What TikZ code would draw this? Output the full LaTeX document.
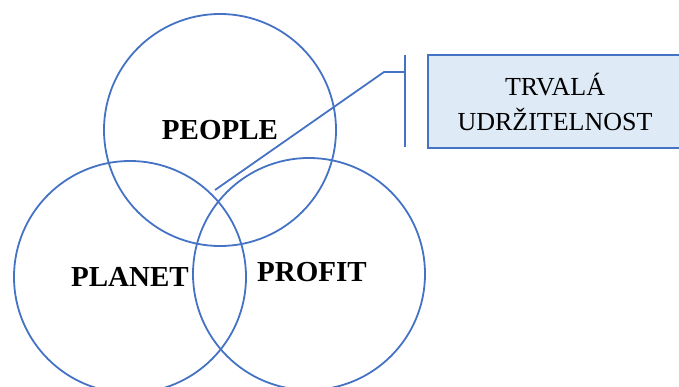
\documentclass[tikz,border=0pt]{standalone}
\usepackage{fontspec}
\setmainfont{Liberation Serif}
\usepackage{tikz}
\usetikzlibrary{positioning}
\definecolor{ringblue}{HTML}{4472C4}
\definecolor{boxfill}{HTML}{DEEAF6}
\tikzset{ring/.style={circle,draw=ringblue,line width=1.8pt,minimum size=232pt,inner sep=0pt,
  font=\fontsize{29}{34}\selectfont\bfseries}}
\tikzset{goalbox/.style={draw=ringblue,fill=boxfill,line width=2pt,align=center,
  minimum width=254pt,minimum height=93pt,font=\fontsize{26}{35}\selectfont}}

\begin{document}
\begin{tikzpicture}[x=1pt,y=-1pt]
\useasboundingbox (0,0) rectangle (679,387);
\node[ring] (people) at (220,130) {PEOPLE};
\node[ring] (planet) at (130,277) {PLANET};
\node[ring] (profit) at (309,274) {};
\node[font=\fontsize{29}{34}\selectfont\bfseries] (profitlabel) at (312,272) {PROFIT};
\node[goalbox,anchor=north west] (goal) at (427,54) {TRVALÁ\\UDRŽITELNOST};
\coordinate (core) at (215,190);
\coordinate (elbow) at (384,72);
\coordinate (bar) at (405,72);
\draw[ringblue,line width=1.8pt] (core) -- (elbow) -- (bar);
\draw[ringblue,line width=1.8pt] (405,55) -- (405,147);
\end{tikzpicture}
\end{document}
